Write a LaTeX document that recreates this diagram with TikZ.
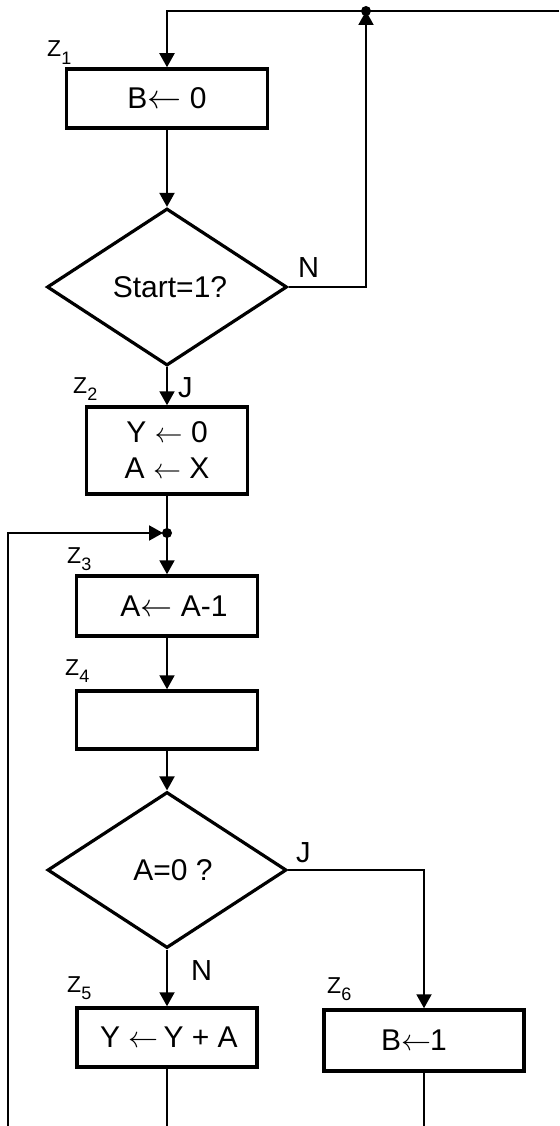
\documentclass[tikz,border=0pt]{standalone}
\usepackage{fontspec}
\usepackage{graphicx}
\setmainfont{Liberation Sans}
\usetikzlibrary{shapes.geometric,arrows.meta}
\tikzset{
  box/.style={draw, rectangle, line width=3.5pt, inner sep=0pt, font=\fontsize{30}{36}\selectfont, align=center},
  cond/.style={draw, diamond, line width=3.2pt, inner sep=0pt, aspect=1, font=\fontsize{30}{36}\selectfont},
  conn/.style={line width=2pt},
  tip/.style={-{Triangle[width=15pt,length=14pt]}},
  zlab/.style={anchor=base west, inner sep=0pt, font=\fontsize{23}{26}\selectfont},
  yn/.style={anchor=base west, inner sep=0pt, font=\fontsize{29}{32}\selectfont},
  dot/.style={circle, fill, inner sep=0pt, minimum size=10pt}
}
\newcommand{\zsub}[1]{Z\raisebox{-0.32em}{\fontsize{18}{18}\selectfont #1}}
\newcommand{\la}[1][32pt]{\raisebox{0pt}{\resizebox{#1}{!}{$\leftarrow$}}}
\begin{document}
\begin{tikzpicture}[x=1pt,y=-1pt]
\useasboundingbox (0,0) rectangle (559,1126);
% nodes
\node[box, minimum width=201pt, minimum height=59pt] (b1) at (167,98.5) {B\la[34pt]\ 0};
\node[cond, minimum width=240pt, minimum height=157pt] (d1) at (167,287) {\hspace*{6pt}Start=1?};
\node[box, minimum width=161pt, minimum height=87pt] (b2) at (167,450.5) {Y \la[28pt] 0\\A \la[28pt] X};
\node[box, minimum width=181pt, minimum height=60pt] (b3) at (167,606) {\hspace*{14pt}A\la\ A-1};
\node[box, minimum width=181pt, minimum height=58pt] (b4) at (167,720) {};
\node[cond, minimum width=239pt, minimum height=156pt] (d2) at (167,870) {\hspace*{12pt}A=0 ?};
\node[box, minimum width=180pt, minimum height=59pt] (b5) at (167,1037.5) {\hspace*{4pt}Y \la[30pt]\,Y + A};
\node[box, minimum width=200pt, minimum height=61pt] (b6) at (424,1040.5) {B\la[30pt]\kern-1pt1\hspace*{20pt}};
% labels
\node[zlab] (z1) at (47,57) {\zsub{1}};
\node[zlab] (z2) at (73,393) {\zsub{2}};
\node[zlab] (z3) at (67,563) {\zsub{3}};
\node[zlab] (z4) at (65,675) {\zsub{4}};
\node[zlab] (z5) at (67,992) {\zsub{5}};
\node[zlab] (z6) at (327,993) {\zsub{6}};
\node[yn] (n1) at (298,277) {N};
\node[yn] (j1l) at (178,397) {J};
\node[yn] (j2l) at (296,862) {J};
\node[yn] (n2) at (191,980) {N};
% coordinates
\coordinate (rt) at (559,11);
\coordinate (c1) at (167,11);
\coordinate (j1) at (366,11);
\coordinate (j2) at (167,533);
\coordinate (lc) at (8,533);
\coordinate (lb) at (8,1126);
\coordinate (e5) at (167,1126);
\coordinate (e6) at (424,1126);
% connectors
\draw[conn,tip] (rt) -- (c1) -- (b1.north);
\draw[conn,tip] (b1.south) -- (d1.north);
\draw[conn,tip] (d1.east) -| (j1);
\draw[conn,tip] (d1.south) -- (b2.north);
\draw[conn] (b2.south) -- (j2);
\draw[conn,tip] (j2) -- (b3.north);
\draw[conn,tip] (lb) -- (lc) -- ([xshift=-4pt]j2);
\draw[conn,tip] (b3.south) -- (b4.north);
\draw[conn,tip] (b4.south) -- (d2.north);
\draw[conn,tip] (d2.south) -- (b5.north);
\draw[conn,tip] (d2.east) -| (b6.north);
\draw[conn] (b5.south) -- (e5);
\draw[conn] (b6.south) -- (e6);
\node[dot] (dj1) at (j1) {};
\node[dot] (dj2) at (j2) {};
\end{tikzpicture}
\end{document}
